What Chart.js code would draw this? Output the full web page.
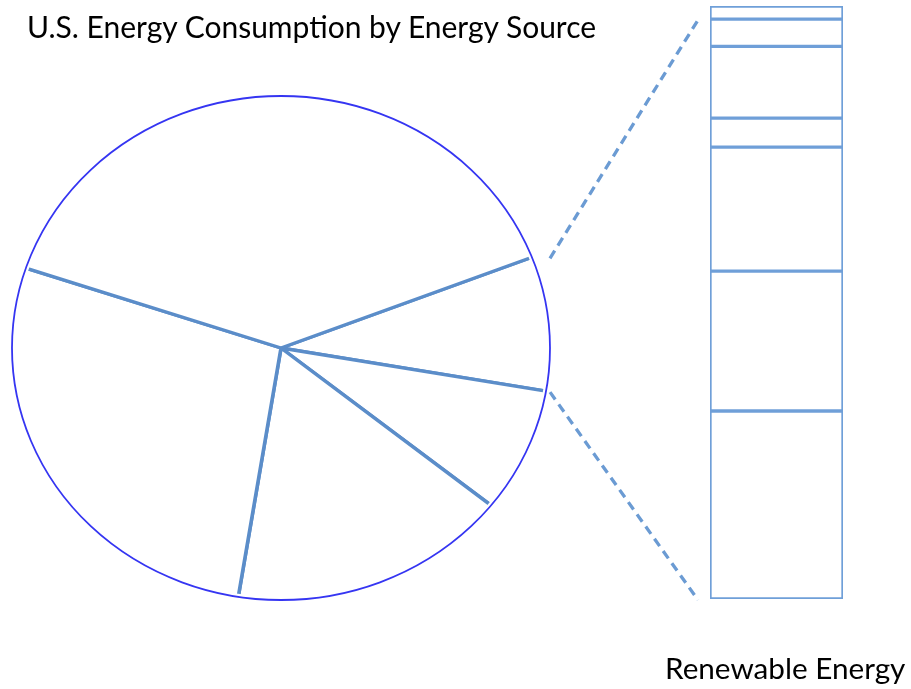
<!DOCTYPE html>
<html>
<head>
<meta charset="utf-8">
<script src="https://cdn.jsdelivr.net/npm/chart.js@4.4.0/dist/chart.umd.min.js"></script>
<style>
  body { margin: 0; background: #fff; width: 911px; height: 689px; position: relative; overflow: hidden; }
  canvas { position: absolute; }
  #pie { left: 0; top: 0; }
  #bar { left: 690px; top: 0; }
  .label { position: absolute; font-family: Lato, sans-serif; color: #000; line-height: 1; white-space: nowrap; }
  #title { left: 27px; top: 11px; font-size: 30px; }
  #barLabel { left: 665px; top: 653px; font-size: 29.7px; }
</style>
</head>
<body>
<canvas id="pie" width="911" height="689"></canvas>
<canvas id="bar" width="180" height="620"></canvas>
<div class="label" id="title">U.S. Energy Consumption by Energy Source</div>
<div class="label" id="barLabel">Renewable Energy</div>
<script>
// share of total consumption, read clockwise starting from the exploded slice
const sources = ["Renewable", "Nuclear", "Coal", "Natural Gas", "Petroleum"];
const sourceShares = [8.6, 8.0, 16.8, 27.6, 39.0];

// renewable breakdown, stacked bottom to top
const renewables = ["Hydropower", "Wood", "Biofuels", "Waste", "Wind", "Geothermal", "Solar"];
const renewableShares = [31.7, 23.6, 20.9, 4.9, 12.1, 4.6, 2.2];

const spokeColor = "#5b8dc9";
const rimColor = "#3535f2";
const barLine = "#6f9fd8";
const squash = 252 / 269; // the pie is drawn a little flattened

// stacked bar on the right
const barChart = new Chart(document.getElementById("bar"), {
  type: "bar",
  data: {
    labels: ["Renewable"],
    datasets: renewables.map((name, i) => ({
      label: name,
      data: [renewableShares[i]],
      backgroundColor: "#ffffff",
      borderColor: barLine,
      borderWidth: 2,
      borderSkipped: false,
      barPercentage: 1,
      categoryPercentage: 1,
    })),
  },
  options: {
    responsive: false,
    animation: false,
    devicePixelRatio: 1,
    layout: { padding: { left: 20, right: 27, top: 6, bottom: 21 } },
    scales: {
      x: { stacked: true, display: false },
      y: { stacked: true, display: false, min: 0, max: renewableShares.reduce((a, b) => a + b, 0) },
    },
    plugins: { legend: { display: false }, tooltip: { enabled: false } },
  },
});

function barCorners() {
  const canvas = document.getElementById("bar");
  const first = barChart.getDatasetMeta(0).data[0];
  const last = barChart.getDatasetMeta(renewables.length - 1).data[0];
  const left = canvas.offsetLeft + first.x - first.width / 2;
  return { left: left, top: canvas.offsetTop + last.y, bottom: canvas.offsetTop + first.base };
}

// squash the arcs vertically, then draw the rim and the dashed connectors
const ellipsePlugin = {
  id: "ellipse",
  beforeDatasetsDraw(chart) {
    const arc = chart.getDatasetMeta(0).data[0];
    const ctx = chart.ctx;
    ctx.save();
    ctx.translate(arc.x, arc.y);
    ctx.scale(1, squash);
    ctx.translate(-arc.x, -arc.y);
  },
  afterDatasetsDraw(chart) {
    const ctx = chart.ctx;
    ctx.restore();
    const arc = chart.getDatasetMeta(0).data[0];
    const rx = arc.outerRadius;
    const ry = rx * squash;

    ctx.save();
    ctx.beginPath();
    ctx.ellipse(arc.x, arc.y, rx, ry, 0, 0, Math.PI * 2);
    ctx.strokeStyle = "#ffffff";
    ctx.lineWidth = 6;
    ctx.stroke();
    ctx.strokeStyle = rimColor;
    ctx.lineWidth = 1.8;
    ctx.stroke();

    const bar = barCorners();
    const rim = (a) => ({ x: arc.x + rx * Math.cos(a), y: arc.y + ry * Math.sin(a) });
    const links = [
      { from: rim(arc.startAngle), shift: 18, to: { x: bar.left - 12, y: bar.top + 14 } },
      { from: rim(arc.endAngle), shift: 4, to: { x: bar.left - 12, y: bar.bottom + 1 } },
    ];
    ctx.setLineDash([9, 6]);
    ctx.lineWidth = 3.3;
    ctx.strokeStyle = "#6b9bd3";
    links.forEach((l) => {
      ctx.beginPath();
      ctx.moveTo(l.from.x + l.shift, l.from.y + 1);
      ctx.lineTo(l.to.x, l.to.y);
      ctx.stroke();
    });
    ctx.restore();
  },
};

new Chart(document.getElementById("pie"), {
  type: "pie",
  data: {
    labels: sources,
    datasets: [{
      data: sourceShares,
      backgroundColor: "#ffffff",
      borderColor: spokeColor,
      borderWidth: 3.6,
    }],
  },
  options: {
    responsive: false,
    animation: false,
    devicePixelRatio: 1,
    rotation: 68.9,
    radius: 269,
    layout: { padding: { left: 12, right: 361, top: 79, bottom: 72 } },
    plugins: { legend: { display: false }, tooltip: { enabled: false } },
  },
  plugins: [ellipsePlugin],
});
</script>
</body>
</html>
